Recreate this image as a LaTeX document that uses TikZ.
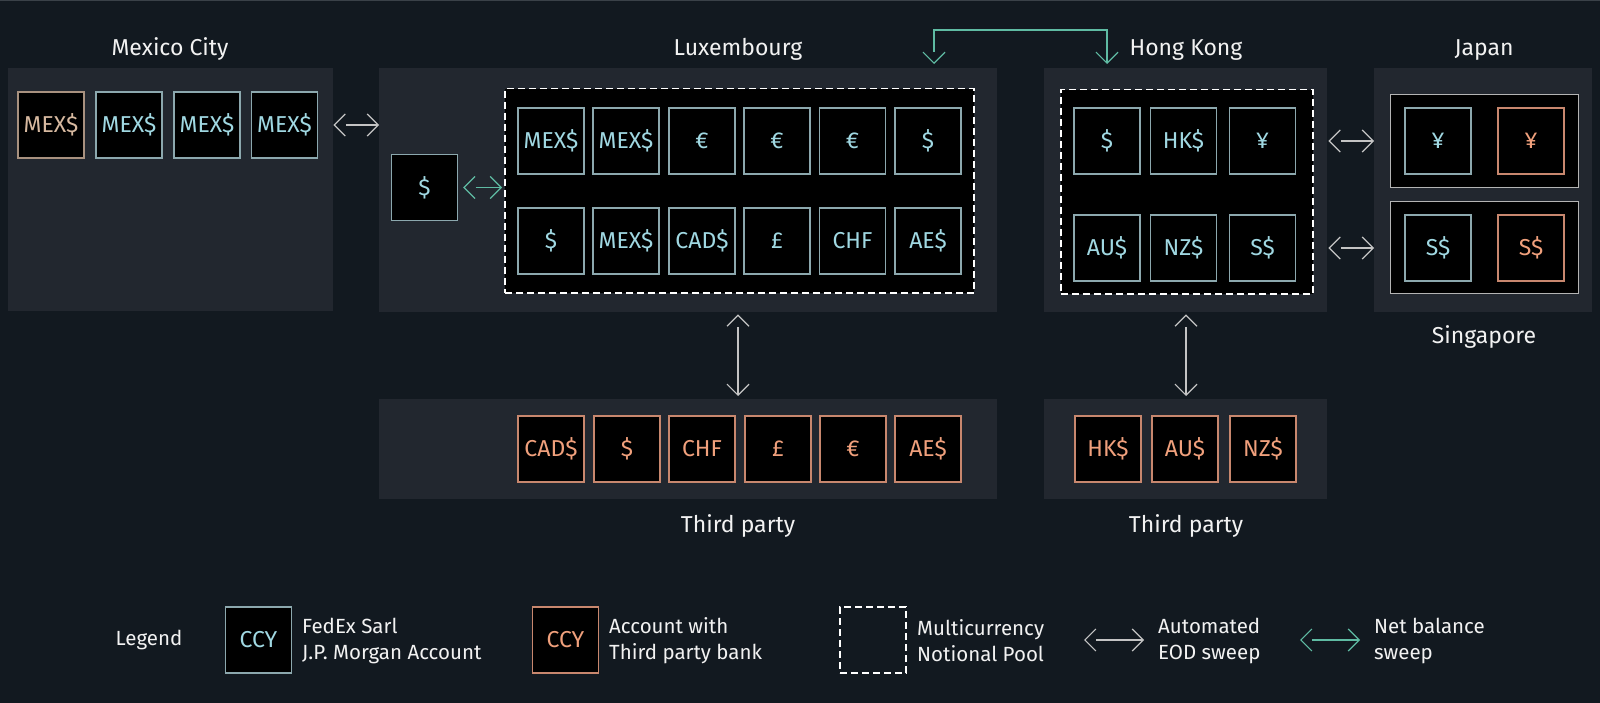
\documentclass[tikz,border=0pt]{standalone}
\usepackage{fontspec}
\setmainfont{Fira Sans}
\usetikzlibrary{arrows.meta}
\definecolor{bgc}{HTML}{121920}
\definecolor{panelc}{HTML}{22272F}
\definecolor{topline}{HTML}{3A4148}
\definecolor{bluetx}{HTML}{A0D8E2}
\definecolor{bluebd}{HTML}{8CA8AE}
\definecolor{orgtx}{HTML}{F0A07C}
\definecolor{orgbd}{HTML}{C8876E}
\definecolor{tantx}{HTML}{D7B9A0}
\definecolor{tanbd}{HTML}{A8917F}
\definecolor{netc}{HTML}{5FBBA3}
\definecolor{eodc}{HTML}{C4C4C4}
\definecolor{whitetx}{HTML}{F2F2F2}
\definecolor{innerbd}{HTML}{B4B4B4}
\tikzset{
  panel/.style={fill=panelc, draw=none, anchor=north west, inner sep=0pt},
  acct/.style={draw=bluebd, fill=black, text=bluetx, minimum size=66pt, inner sep=0pt, line width=1.3pt, font=\fontsize{23}{26}\selectfont},
  tpacct/.style={acct, draw=orgbd, text=orgtx},
  tanacct/.style={acct, draw=tanbd, text=tantx},
  pool/.style={draw=white, fill=black, dash pattern=on 7pt off 4pt, line width=1.5pt, anchor=north west, inner sep=0pt},
  inner/.style={draw=innerbd, fill=black, line width=1.3pt, anchor=north west, inner sep=0pt},
  title/.style={text=whitetx, anchor=base, font=\fontsize{23}{26}\selectfont, inner sep=0pt},
  legtext/.style={text=whitetx, anchor=west, align=left, font=\fontsize{20.5}{26}\selectfont, inner sep=0pt},
  eod/.style={draw=eodc, line width=1.2pt, {Straight Barb[length=11pt,width=22pt].}-{Straight Barb[length=11pt,width=22pt].}},
  net/.style={draw=netc, line width=1.2pt, {Straight Barb[length=11pt,width=22pt].}-{Straight Barb[length=11pt,width=22pt].}},
}
\begin{document}
\begin{tikzpicture}[x=1pt,y=-1pt]
\fill[bgc] (0,0) rectangle (1600,703);
\useasboundingbox (0,0) rectangle (1600,703);
\draw[topline, line width=1.5pt] (0,0.6) -- (1600,0.6);

% panels
\node[panel, minimum width=325pt, minimum height=243pt] (mexpanel) at (8,68) {};
\node[panel, minimum width=618pt, minimum height=244pt] (luxpanel) at (379,68) {};
\node[panel, minimum width=283pt, minimum height=244pt] (hkpanel) at (1044,68) {};
\node[panel, minimum width=218pt, minimum height=244pt] (jppanel) at (1374,68) {};
\node[panel, minimum width=618pt, minimum height=100pt] (luxtp) at (379,399) {};
\node[panel, minimum width=283pt, minimum height=100pt] (hktp) at (1044,399) {};

% pools and inner boxes
\node[pool, minimum width=469pt, minimum height=204pt] (luxpool) at (504,88) {};
\node[pool, minimum width=252pt, minimum height=204pt] (hkpool) at (1060,89) {};
\node[inner, minimum width=188pt, minimum height=93pt] (jpbox) at (1390,94) {};
\node[inner, minimum width=188pt, minimum height=92pt] (sgbox) at (1390,201) {};

% titles
\node[title] (tmex) at (170,56) {Mexico City};
\node[title] (tlux) at (738,56) {Luxembourg};
\node[title] (thk) at (1186,56) {Hong Kong};
\node[title] (tjp) at (1484,56) {Japan};
\node[title] (tsg) at (1484,343) {Singapore};
\node[title] (ttp1) at (738,532) {Third party};
\node[title] (ttp2) at (1186,532) {Third party};

% Mexico City
\node[tanacct] (m1) at (51,125) {MEX\$};
\node[acct] (m2) at (129,125) {MEX\$};
\node[acct] (m3) at (207,125) {MEX\$};
\node[acct] (m4) at (284.5,125) {MEX\$};

% Luxembourg
\node[acct] (lusd) at (424.5,187.5) {\$};
\node[acct] (l11) at (551,141) {MEX\$};
\node[acct] (l12) at (626,141) {MEX\$};
\node[acct] (l13) at (702,141) {€};
\node[acct] (l14) at (777,141) {€};
\node[acct] (l15) at (852.5,141) {€};
\node[acct] (l16) at (928,141) {\$};
\node[acct] (l21) at (551,241) {\$};
\node[acct] (l22) at (626,241) {MEX\$};
\node[acct] (l23) at (702,241) {CAD\$};
\node[acct] (l24) at (777,241) {£};
\node[acct] (l25) at (852.5,241) {CHF};
\node[acct] (l26) at (928,241) {AE\$};

% Luxembourg third party
\node[tpacct] (t1) at (551,449) {CAD\$};
\node[tpacct] (t2) at (627,449) {\$};
\node[tpacct] (t3) at (702,449) {CHF};
\node[tpacct] (t4) at (778,449) {£};
\node[tpacct] (t5) at (853,449) {€};
\node[tpacct] (t6) at (928,449) {AE\$};

% Hong Kong
\node[acct] (h11) at (1107,141) {\$};
\node[acct] (h12) at (1183.5,141) {HK\$};
\node[acct] (h13) at (1262.5,141) {¥};
\node[acct] (h21) at (1107,248) {AU\$};
\node[acct] (h22) at (1183.5,248) {NZ\$};
\node[acct] (h23) at (1262.5,248) {S\$};

% Hong Kong third party
\node[tpacct] (u1) at (1108,449) {HK\$};
\node[tpacct] (u2) at (1185,449) {AU\$};
\node[tpacct] (u3) at (1263,449) {NZ\$};

% Japan / Singapore
\node[acct] (j1) at (1438,141) {¥};
\node[tpacct] (j2) at (1531,141) {¥};
\node[acct] (s1) at (1438,248) {S\$};
\node[tpacct] (s2) at (1531,248) {S\$};

% connectors
\draw[eod] (mexpanel.east |- m4) -- (luxpanel.west |- m4);
\draw[net, shorten <=5pt, shorten >=2pt] (lusd.east) -- (luxpool.west |- lusd);
\draw[eod, shorten <=1pt] (hkpanel.east |- j1) -- (jppanel.west |- j1);
\draw[eod, shorten <=1pt] (hkpanel.east |- s1) -- (jppanel.west |- s1);
\coordinate (lx) at (738,0);
\draw[eod, shorten <=2pt, shorten >=3pt] (luxpanel.south -| lx) -- (luxtp.north -| lx);
\coordinate (hx) at (1186,0);
\draw[eod, shorten <=2pt, shorten >=3pt] (hkpanel.south -| hx) -- (hktp.north -| hx);
\coordinate (topL) at (934,30);
\coordinate (topR) at (1107,30);
\draw[net] ([yshift=4pt]topL |- luxpanel.north) -- (topL) -- (topR) -- ([yshift=4pt]topR |- hkpanel.north);

% legend
\node[text=whitetx, font=\fontsize{20.5}{26}\selectfont, inner sep=0pt] (leg) at (149,640) {Legend};
\node[acct, font=\fontsize{23}{26}\selectfont] (lg1) at (258.5,640) {CCY};
\node[legtext] (lg1t) at (302,641) {FedEx Sarl\\J.P. Morgan Account};
\node[tpacct, font=\fontsize{23}{26}\selectfont] (lg2) at (565.5,640) {CCY};
\node[legtext] (lg2t) at (609,641) {Account with\\Third party bank};
\node[draw=white, dash pattern=on 7pt off 4pt, line width=1.5pt, minimum size=66pt, inner sep=0pt] (lg3) at (873,640) {};
\node[legtext] (lg3t) at (917,641) {Multicurrency\\Notional Pool};
\coordinate (e1) at (1084,640);
\coordinate (e2) at (1144,640);
\draw[eod] (e1) -- (e2);
\node[legtext] (lg4t) at (1158,641) {Automated\\EOD sweep};
\coordinate (n1) at (1300,640);
\coordinate (n2) at (1360,640);
\draw[net] (n1) -- (n2);
\node[legtext] (lg5t) at (1374,641) {Net balance\\sweep};
\end{tikzpicture}
\end{document}
